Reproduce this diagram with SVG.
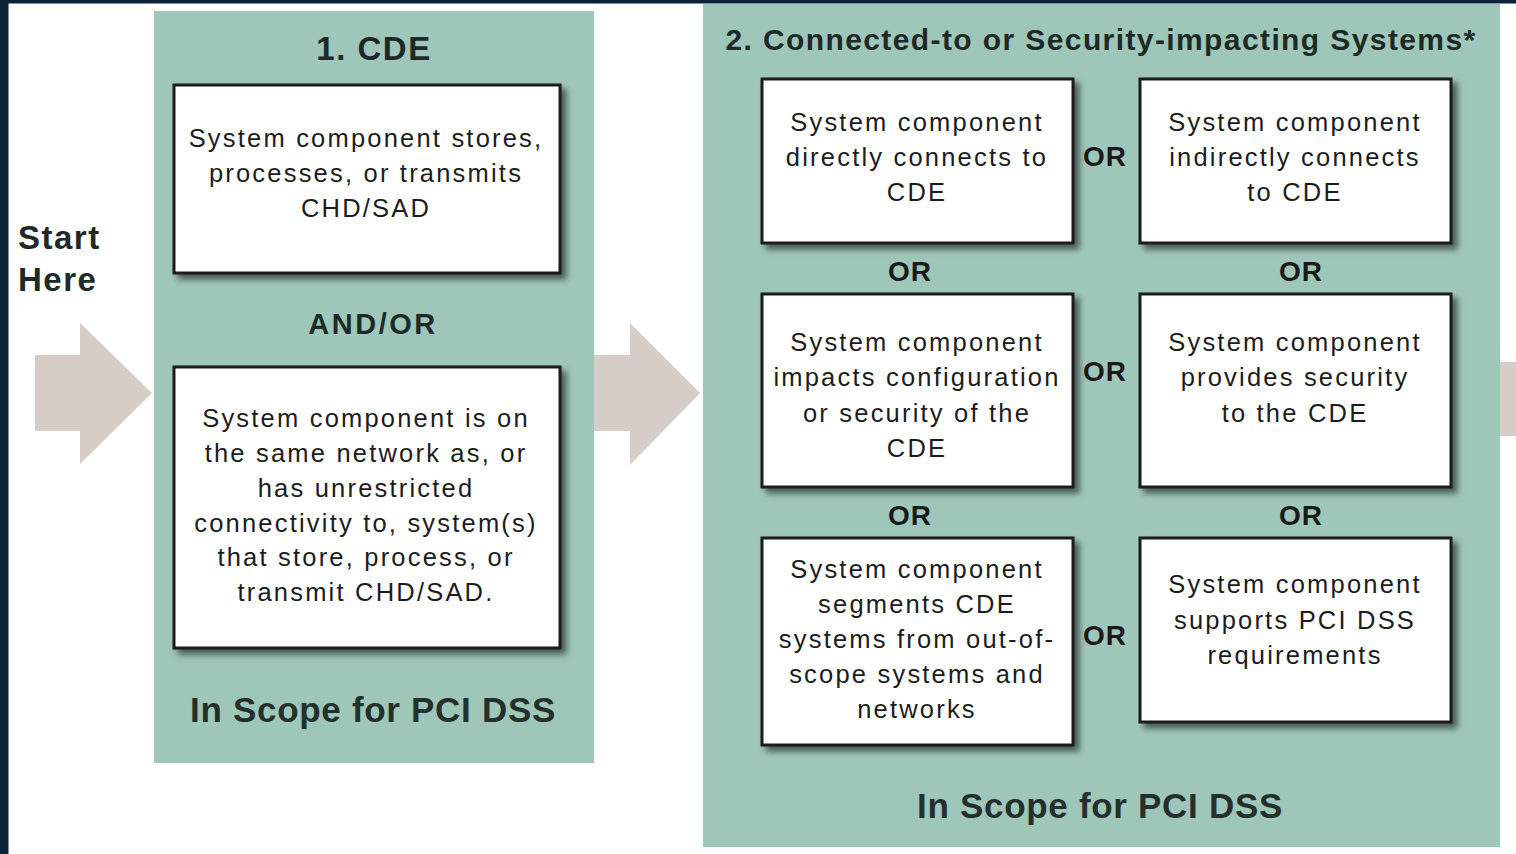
<svg xmlns="http://www.w3.org/2000/svg" width="1516" height="854" viewBox="0 0 1516 854">
<defs>
<filter id="sh" x="-10%" y="-10%" width="130%" height="130%">
<feDropShadow dx="5" dy="5" stdDeviation="3" flood-color="#000" flood-opacity="0.55"/>
</filter>
<style>
.panel{fill:#9fc7b9}
.box{fill:#fff;stroke:#1a1a1a;stroke-width:3;filter:url(#sh)}
.arrow{fill:#d6cdc8}
.bt{font-family:"Liberation Sans",Arial,sans-serif;font-size:25.5px;letter-spacing:2.2px;fill:#1c1c1c;text-anchor:middle}
.or{font-family:"Liberation Sans",Arial,sans-serif;font-size:28px;font-weight:bold;letter-spacing:1px;fill:#1a1a1a;text-anchor:middle}
.hd{font-family:"Liberation Sans",Arial,sans-serif;font-weight:bold;fill:#1e2a27;text-anchor:middle}
.scope{font-family:"Liberation Sans",Arial,sans-serif;font-size:35px;font-weight:bold;letter-spacing:0.7px;fill:#24302d;text-anchor:middle}
</style>
</defs>
<rect x="0" y="0" width="1516" height="854" fill="#fff"/>
<rect x="0" y="0" width="1516" height="3.5" fill="#0b2239"/>
<rect x="0" y="0" width="8.5" height="854" fill="#0b2239"/>

<g id="panel-cde">
<rect class="panel" x="154" y="11" width="440" height="752"/>
<text class="hd" x="374" y="60" font-size="33" letter-spacing="1.5">1. CDE</text>
<text class="hd" x="373" y="334" font-size="29" letter-spacing="2.5">AND/OR</text>
<text class="scope" x="373" y="722">In Scope for PCI DSS</text>
</g>

<g id="panel-connected">
<rect class="panel" x="703" y="4" width="797" height="843"/>
<text class="hd" x="1101" y="50" font-size="30" letter-spacing="1.4">2. Connected-to or Security-impacting Systems*</text>
<text class="scope" x="1100" y="818">In Scope for PCI DSS</text>
</g>

<g id="start-here">
<text class="hd" x="18" y="249" font-size="33" letter-spacing="1.5" style="text-anchor:start">Start</text>
<text class="hd" x="18" y="291" font-size="33" letter-spacing="1.5" style="text-anchor:start">Here</text>
</g>

<g id="connectors">
<polygon class="arrow" points="35,355 80,355 80,323 152,393 80,464 80,431 35,431"/>
<polygon class="arrow" points="594,355 630,355 630,323 700,393 630,465 630,431 594,431"/>
<rect class="arrow" x="1500" y="362" width="16" height="74"/>
<text class="or" x="1105" y="166">OR</text>
<text class="or" x="1105" y="381">OR</text>
<text class="or" x="1105" y="645">OR</text>
<text class="or" x="910" y="281">OR</text>
<text class="or" x="1301" y="281">OR</text>
<text class="or" x="910" y="525">OR</text>
<text class="or" x="1301" y="525">OR</text>
</g>

<g id="box-stores">
<rect class="box" x="174" y="85" width="386" height="188"/>
<text class="bt" x="366" y="147">System component stores,</text>
<text class="bt" x="366" y="182">processes, or transmits</text>
<text class="bt" x="366" y="217">CHD/SAD</text>
</g>

<g id="box-same-network">
<rect class="box" x="174" y="367" width="386" height="281"/>
<text class="bt" x="366" y="427">System component is on</text>
<text class="bt" x="366" y="462">the same network as, or</text>
<text class="bt" x="366" y="497">has unrestricted</text>
<text class="bt" x="366" y="532">connectivity to, system(s)</text>
<text class="bt" x="366" y="566">that store, process, or</text>
<text class="bt" x="366" y="601">transmit CHD/SAD.</text>
</g>

<g id="box-directly">
<rect class="box" x="762" y="79" width="311" height="164"/>
<text class="bt" x="917" y="131">System component</text>
<text class="bt" x="917" y="166">directly connects to</text>
<text class="bt" x="917" y="201">CDE</text>
</g>

<g id="box-indirectly">
<rect class="box" x="1140" y="79" width="311" height="164"/>
<text class="bt" x="1295" y="131">System component</text>
<text class="bt" x="1295" y="166">indirectly connects</text>
<text class="bt" x="1295" y="201">to CDE</text>
</g>

<g id="box-impacts">
<rect class="box" x="762" y="294" width="311" height="193"/>
<text class="bt" x="917" y="351">System component</text>
<text class="bt" x="917" y="386">impacts configuration</text>
<text class="bt" x="917" y="422">or security of the</text>
<text class="bt" x="917" y="457">CDE</text>
</g>

<g id="box-provides">
<rect class="box" x="1140" y="294" width="311" height="193"/>
<text class="bt" x="1295" y="351">System component</text>
<text class="bt" x="1295" y="386">provides security</text>
<text class="bt" x="1295" y="422">to the CDE</text>
</g>

<g id="box-segments">
<rect class="box" x="762" y="538" width="311" height="207"/>
<text class="bt" x="917" y="578">System component</text>
<text class="bt" x="917" y="613">segments CDE</text>
<text class="bt" x="917" y="648">systems from out-of-</text>
<text class="bt" x="917" y="683">scope systems and</text>
<text class="bt" x="917" y="718">networks</text>
</g>

<g id="box-supports">
<rect class="box" x="1140" y="538" width="311" height="184"/>
<text class="bt" x="1295" y="593">System component</text>
<text class="bt" x="1295" y="629">supports PCI DSS</text>
<text class="bt" x="1295" y="664">requirements</text>
</g>
</svg>
